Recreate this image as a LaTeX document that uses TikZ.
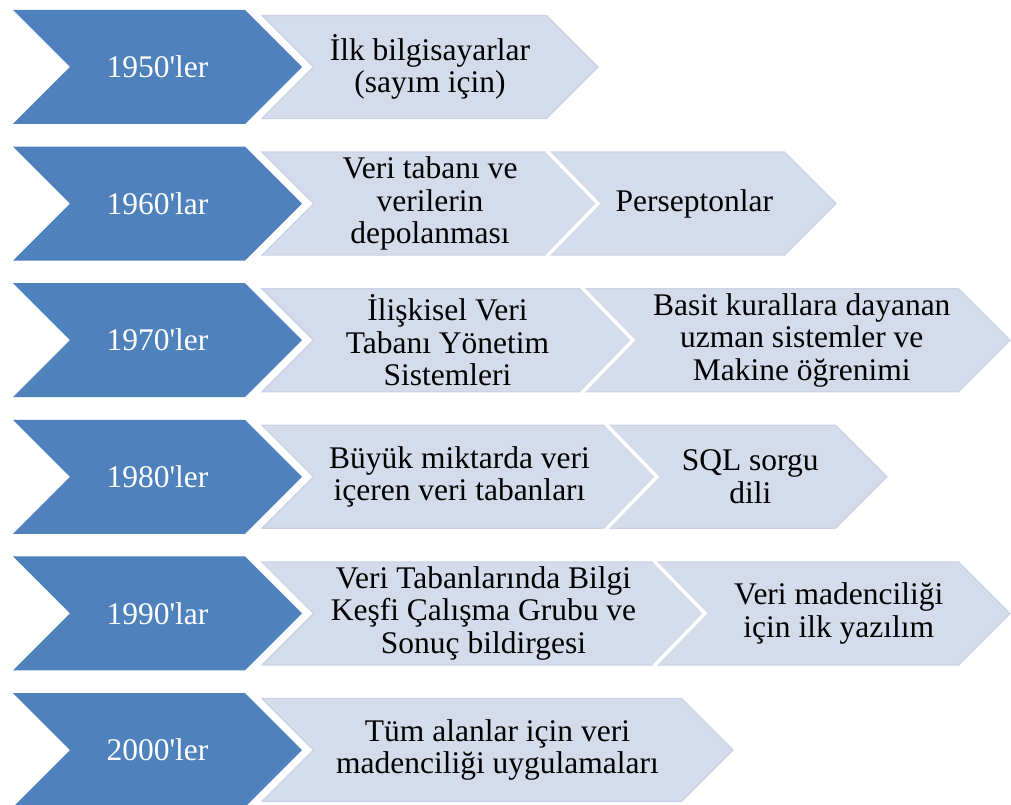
\documentclass[tikz,border=0pt]{standalone}
\usepackage{fontspec}
\setmainfont{Liberation Serif}
\definecolor{yearblue}{HTML}{4F81BD}
\definecolor{itemfill}{HTML}{D4DBEA}
\definecolor{itemedge}{HTML}{CAD2E4}

% blue year chevron: name, vertical centre, label
\newcommand\yearchev[3]{%
  \fill[yearblue] (13,{#2-57}) -- (245,{#2-57}) -- (302,#2) -- (245,{#2+57})
    -- (13,{#2+57}) -- (70,#2) -- cycle;
  \node[yeartext] (#1) at (157.5,#2) {#3};
}
% light item chevron: name, left x, tip x, vertical centre, label, text shift
\newcommand\itemchev[6]{%
  \filldraw[itemshape] (#2,{#4-51.5}) -- ({#3-51.5},{#4-51.5}) -- (#3,#4)
    -- ({#3-51.5},{#4+51.5}) -- (#2,{#4+51.5}) -- ({#2+51.5},#4) -- cycle;
  \node[itemtext] (#1) at ({(#2+#3)/2+#6},#4) {#5};
}
% white seam along the notch of a following chevron
\newcommand\seam[2]{%
  \draw[seamline] (#1,{#2-53}) -- ({#1+51.5},#2) -- (#1,{#2+53});
}
\newcommand\q{\textquotesingle}

\begin{document}
\begin{tikzpicture}[x=1pt,y=-1pt,
  yeartext/.style={text=white,font=\fontsize{31.5}{32.5}\selectfont,inner sep=0pt},
  itemtext/.style={text=black,align=center,font=\fontsize{31.5}{32.5}\selectfont,inner sep=0pt},
  itemshape/.style={fill=itemfill,draw=itemedge,line width=1.2pt,line join=miter},
  seamline/.style={draw=white,line width=3.5pt}]
\useasboundingbox (0,0) rectangle (1011,805);

% 1950s
\yearchev{y50}{67}{1950\q ler}
\itemchev{a50}{262}{598}{67}{İlk bilgisayarlar\\(sayım için)}{0}

% 1960s
\yearchev{y60}{203.6}{1960\q lar}
\itemchev{a60}{262}{598}{203.6}{Veri tabanı ve\\verilerin\\depolanması}{0}
\itemchev{b60}{546.5}{836}{203.6}{Perseptonlar}{3}
\seam{546.5}{203.6}

% 1970s
\yearchev{y70}{340.2}{1970\q ler}
\itemchev{a70}{262}{633}{340.2}{İlişkisel Veri\\Tabanı Yönetim\\Sistemleri}{0}
\itemchev{b70}{581.5}{1010}{340.2}{Basit kurallara dayanan\\uzman sistemler ve\\Makine öğrenimi}{6}
\seam{581.5}{340.2}

% 1980s
\yearchev{y80}{476.8}{1980\q ler}
\itemchev{a80}{262}{657}{476.8}{Büyük miktarda veri\\içeren veri tabanları}{0}
\itemchev{b80}{605.5}{887}{476.8}{SQL sorgu\\dili}{4}
\seam{605.5}{476.8}

% 1990s
\yearchev{y90}{613.4}{1990\q lar}
\itemchev{a90}{262}{705}{613.4}{Veri Tabanlarında Bilgi\\Keşfi Çalışma Grubu ve\\Sonuç bildirgesi}{0}
\itemchev{b90}{653.5}{1010}{613.4}{Veri madenciliği\\için ilk yazılım}{7}
\seam{653.5}{613.4}

% 2000s
\yearchev{y00}{750}{2000\q ler}
\itemchev{a00}{262}{733}{750}{Tüm alanlar için veri\\madenciliği uygulamaları}{0}
\end{tikzpicture}
\end{document}
